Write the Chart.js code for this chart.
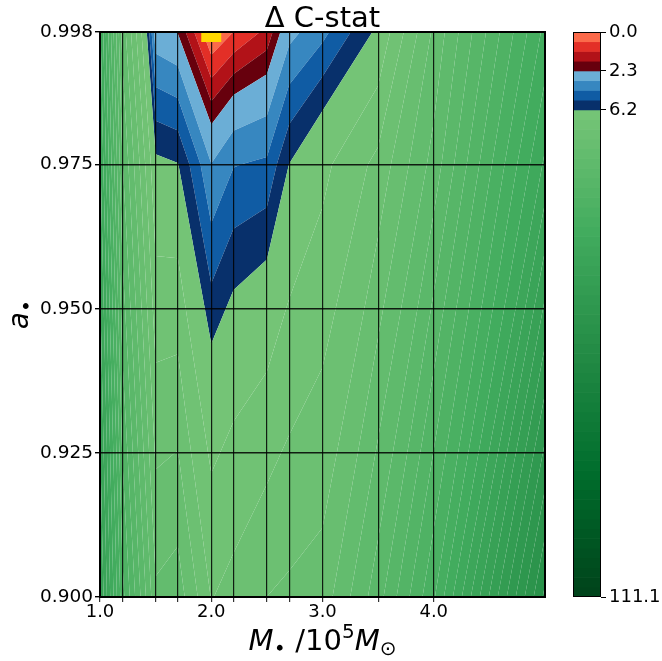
<!DOCTYPE html>
<html>
<head>
<meta charset="utf-8">
<script src="https://cdn.jsdelivr.net/npm/chart.js@4.4.1/dist/chart.umd.min.js"></script>
<style>
  html, body { margin: 0; padding: 0; background: #ffffff; }
  #wrap { position: relative; width: 662px; height: 661px; }
  #mainBox { position: absolute; left: 0; top: 0; width: 560px; height: 661px; }
  #cbarBox { position: absolute; left: 560px; top: 0; width: 102px; height: 661px; }
</style>
</head>
<body>
<div id="wrap">
  <div id="mainBox"><canvas id="main" width="560" height="661"></canvas></div>
  <div id="cbarBox"><canvas id="cbar" width="102" height="661"></canvas></div>
</div>
<script>
// Sampled black-hole masses (units of 1e5 Msun) and spins of the fit grid
const masses = [1.0, 1.2, 1.5, 1.7, 2.0, 2.2, 2.5, 2.7, 3.0, 3.5, 4.0, 5.0];
const spins = [0.900, 0.975, 0.998];

// Delta C-stat relative to the best fit, one array per spin row (same order as masses)
const dcstatSpin0900 = [42.0, 28.0, 15.0, 15.7, 10.3, 11.1, 12.5, 12.9, 13.4, 20.0, 29.0, 55.0];
const dcstatSpin0975 = [36.0, 19.0, 6.5, 6.25, 3.3, 4.2, 4.43, 6.22, 7.74, 11.0, 17.5, 36.0];
const dcstatSpin0998 = [34.0, 16.0, 2.65, 2.25, 0.0, 0.58, 1.3, 2.95, 3.95, 6.46, 15.0, 32.0];

// Best-fit point
const bestFitMass = [2.0];
const bestFitSpin = [0.998];

// Axis ticks
const spinTicks = [0.900, 0.925, 0.950, 0.975, 0.998];
const massTickLabels = ['1.0', '2.0', '3.0', '4.0'];

// Colour-bar tick values and number of filled bands between consecutive ticks
const cbarTicks = [0.0, 2.3, 6.2, 111.1];
const bandsBetweenTicks = [4, 4, 50];
const bandCmaps = ['Reds', 'Blues', 'Greens'];

const titleText = '\u0394 C-stat';
const FONT = '"DejaVu Sans", "Liberation Sans", sans-serif';

// ---- colormaps (matplotlib sequential palettes) ----
const CMAPS = {
  Reds:   ['#fff5f0','#fee0d2','#fcbba1','#fc9272','#fb6a4a','#ef3b2c','#cb181d','#a50f15','#67000d'],
  Blues:  ['#f7fbff','#deebf7','#c6dbef','#9ecae1','#6baed6','#4292c6','#2171b5','#08519c','#08306b'],
  Greens: ['#f7fcf5','#e5f5e0','#c7e9c0','#a1d99b','#74c476','#41ab5d','#238b45','#006d2c','#00441b']
};
function hexRgb(h) { return [1, 3, 5].map(k => parseInt(h.substr(k, 2), 16)); }
function cmap(name, t) {
  const s = CMAPS[name];
  const f = t * (s.length - 1);
  const i = Math.min(Math.floor(f), s.length - 2);
  const u = f - i;
  const a = hexRgb(s[i]), b = hexRgb(s[i + 1]);
  const c = a.map((v, k) => Math.round(v + (b[k] - v) * u));
  return `rgb(${c[0]},${c[1]},${c[2]})`;
}

// contour levels and the fill colour of each band
const levels = [];
const bandColors = [];
cbarTicks.slice(0, -1).forEach((lo, k) => {
  const hi = cbarTicks[k + 1], n = bandsBetweenTicks[k];
  for (let i = 0; i < n; i++) {
    levels.push(lo + (hi - lo) * i / n);
    bandColors.push(cmap(bandCmaps[k], 0.5 + 0.5 * (n > 1 ? i / (n - 1) : 0)));
  }
});
levels.push(cbarTicks[cbarTicks.length - 1]);
const cbarTickIndex = [0];
bandsBetweenTicks.reduce((acc, n) => { cbarTickIndex.push(acc + n); return acc + n; }, 0);

// ---- filled contours: each grid cell is cut into band polygons whose
// edges join the level crossings on the cell sides with straight lines ----
function bandPolygon(c, lo, hi, closedTop) {
  const inside = z => z >= lo && (closedTop ? z <= hi : z < hi);
  const out = [];
  for (let k = 0; k < 4; k++) {
    const p = c[k], q = c[(k + 1) % 4];
    if (inside(p.z)) out.push(p);
    const cs = [];
    for (const lev of [lo, hi]) {
      if ((p.z < lev && q.z >= lev) || (p.z >= lev && q.z < lev)) {
        const t = (lev - p.z) / (q.z - p.z);
        cs.push({ t, x: p.x + (q.x - p.x) * t, y: p.y + (q.y - p.y) * t });
      }
    }
    cs.sort((a, b) => a.t - b.t);
    out.push(...cs);
  }
  return out;
}

const contourFill = {
  id: 'contourFill',
  beforeDraw(chart) {
    const xs = chart.scales.x, ys = chart.scales.y, ctx = chart.ctx, ca = chart.chartArea;
    const rows = [dcstatSpin0900, dcstatSpin0975, dcstatSpin0998];
    ctx.save();
    ctx.beginPath();
    ctx.rect(ca.left, ca.top, ca.right - ca.left, ca.bottom - ca.top);
    ctx.clip();
    for (let b = 0; b < bandColors.length; b++) {
      const lo = levels[b], hi = levels[b + 1];
      ctx.beginPath();
      for (let j = 0; j < spins.length - 1; j++) {
        for (let i = 0; i < masses.length - 1; i++) {
          const corners = [[i, j], [i + 1, j], [i + 1, j + 1], [i, j + 1]].map(([ii, jj]) => ({
            x: xs.getPixelForValue(masses[ii]),
            y: ys.getPixelForValue(spins[jj]),
            z: rows[jj][ii]
          }));
          const poly = bandPolygon(corners, lo, hi, b === bandColors.length - 1);
          if (poly.length < 3) continue;
          ctx.moveTo(poly[0].x, poly[0].y);
          for (let k = 1; k < poly.length; k++) ctx.lineTo(poly[k].x, poly[k].y);
          ctx.closePath();
        }
      }
      ctx.fillStyle = bandColors[b];
      ctx.fill();
    }
    ctx.restore();
  }
};

// ---- mixed roman / italic / sub- and superscript label text ----
function drawRich(ctx, pieces, size) {
  const widths = pieces.map(p => {
    ctx.font = `${p.italic ? 'italic ' : ''}${Math.round(size * (p.scale || 1))}px ${FONT}`;
    return ctx.measureText(p.text).width;
  });
  const total = widths.reduce((a, b) => a + b, 0);
  let x = -total / 2;
  pieces.forEach((p, k) => {
    ctx.font = `${p.italic ? 'italic ' : ''}${Math.round(size * (p.scale || 1))}px ${FONT}`;
    ctx.fillText(p.text, x, (p.dy || 0) * size);
    x += widths[k];
  });
}

const frameAndLabels = {
  id: 'frameAndLabels',
  afterDraw(chart) {
    const ctx = chart.ctx, ca = chart.chartArea;
    ctx.save();
    ctx.strokeStyle = '#000';
    ctx.lineWidth = 2;
    ctx.strokeRect(ca.left, ca.top, ca.right - ca.left, ca.bottom - ca.top);
    ctx.fillStyle = '#000';
    ctx.textAlign = 'left';
    ctx.textBaseline = 'alphabetic';
    // title
    ctx.save();
    ctx.translate((ca.left + ca.right) / 2, ca.top - 5);
    drawRich(ctx, [{ text: titleText }], 29);
    ctx.restore();
    // x label
    ctx.save();
    ctx.translate((ca.left + ca.right) / 2, ca.bottom + 53);
    drawRich(ctx, [
      { text: 'M', italic: true },
      { text: '\u2219', scale: 0.7, dy: 0.15 },
      { text: ' /10' },
      { text: '5', scale: 0.7, dy: -0.4 },
      { text: 'M', italic: true },
      { text: '\u2299', scale: 0.7, dy: 0.18 }
    ], 29);
    ctx.restore();
    // y label
    ctx.save();
    ctx.translate(ca.left - 72, (ca.top + ca.bottom) / 2);
    ctx.rotate(-Math.PI / 2);
    drawRich(ctx, [
      { text: 'a', italic: true },
      { text: '\u2219', scale: 0.7, dy: 0.15 }
    ], 28);
    ctx.restore();
    ctx.restore();
  }
};

new Chart(document.getElementById('main'), {
  type: 'scatter',
  data: {
    datasets: [{
      label: 'best fit',
      data: bestFitMass.map((m, k) => ({ x: m, y: bestFitSpin[k] })),
      pointStyle: 'rect',
      pointRadius: 14.14,
      backgroundColor: '#ffd700',
      borderWidth: 0,
      clip: 0
    }]
  },
  options: {
    responsive: false,
    animation: false,
    events: [],
    layout: { padding: { top: 32, right: 15, left: 0, bottom: 0 } },
    plugins: { legend: { display: false }, tooltip: { enabled: false } },
    scales: {
      x: {
        type: 'linear',
        min: masses[0],
        max: masses[masses.length - 1],
        afterBuildTicks: s => { s.ticks = masses.slice(0, -1).map(v => ({ value: v })); },
        afterFit: s => { s.height = 64; },
        ticks: {
          autoSkip: false,
          maxRotation: 0,
          padding: 0,
          color: '#000',
          font: { family: FONT, size: 18 },
          callback: v => (massTickLabels.includes(Number(v).toFixed(1)) ? Number(v).toFixed(1) : '')
        },
        grid: { color: 'rgba(0,0,0,0.85)', lineWidth: 1.2, tickLength: 5, tickColor: '#333' },
        border: { display: false }
      },
      y: {
        type: 'linear',
        min: spinTicks[0],
        max: spinTicks[spinTicks.length - 1],
        afterBuildTicks: s => { s.ticks = spinTicks.map(v => ({ value: v })); },
        afterFit: s => { s.width = 100; },
        ticks: {
          autoSkip: false,
          padding: 2,
          color: '#000',
          font: { family: FONT, size: 18.5 },
          callback: v => Number(v).toFixed(3)
        },
        grid: { color: 'rgba(0,0,0,0.85)', lineWidth: 1.4, tickLength: 5, tickColor: '#000' },
        border: { display: false }
      }
    }
  },
  plugins: [contourFill, frameAndLabels]
});

// ---- colour bar ----
const cbarOutline = {
  id: 'cbarOutline',
  afterDraw(chart) {
    const ctx = chart.ctx, ca = chart.chartArea;
    ctx.save();
    ctx.strokeStyle = '#000';
    ctx.lineWidth = 1;
    ctx.strokeRect(ca.left + 0.5, ca.top + 0.5, ca.right - ca.left - 1, ca.bottom - ca.top - 1);
    ctx.restore();
  }
};

new Chart(document.getElementById('cbar'), {
  type: 'bar',
  data: {
    labels: [''],
    datasets: bandColors.map((c, b) => ({
      label: `${levels[b]}`,
      data: [1],
      backgroundColor: c,
      borderWidth: 0,
      barPercentage: 1,
      categoryPercentage: 1,
      stack: 'levels'
    }))
  },
  options: {
    responsive: false,
    animation: false,
    events: [],
    layout: { padding: { top: 32, bottom: 64, left: 13, right: 0 } },
    plugins: { legend: { display: false }, tooltip: { enabled: false } },
    scales: {
      x: { display: false, stacked: true },
      y: {
        stacked: true,
        position: 'right',
        reverse: true,
        min: 0,
        max: bandColors.length,
        afterBuildTicks: s => { s.ticks = cbarTickIndex.map(v => ({ value: v })); },
        afterFit: s => { s.width = 61; },
        ticks: {
          autoSkip: false,
          padding: 3,
          color: '#000',
          font: { family: FONT, size: 18 },
          callback: v => cbarTicks[cbarTickIndex.indexOf(v)].toFixed(1)
        },
        grid: { drawOnChartArea: false, tickLength: 5, tickColor: '#000', lineWidth: 1 },
        border: { display: false }
      }
    }
  },
  plugins: [cbarOutline]
});
</script>
</body>
</html>
